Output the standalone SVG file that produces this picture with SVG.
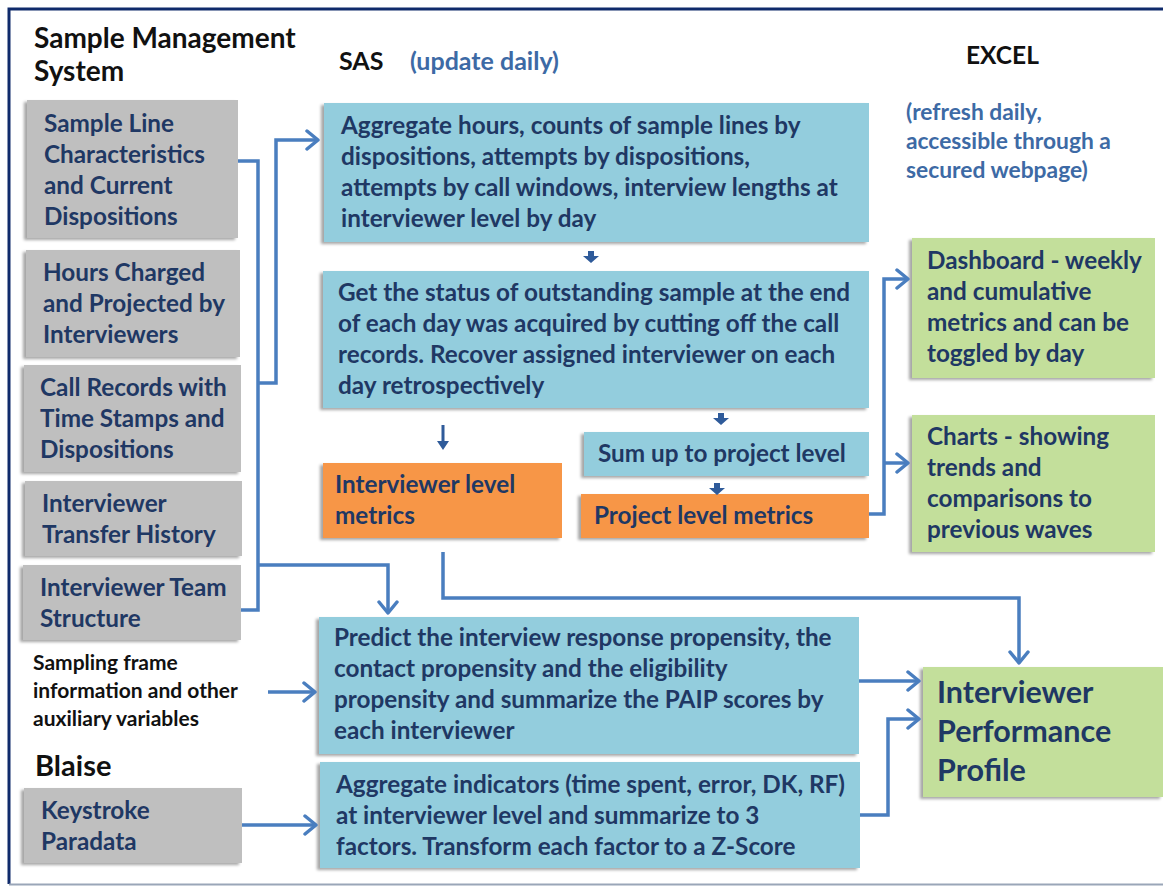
<svg xmlns="http://www.w3.org/2000/svg" width="1163" height="886" viewBox="0 0 1163 886">
  <defs>
    <filter id="shade" x="-5%" y="-10%" width="110%" height="120%">
      <feDropShadow dx="-3" dy="2" stdDeviation="1.5" flood-color="#000" flood-opacity="0.35"/>
    </filter>
    <marker id="open" markerUnits="userSpaceOnUse" markerWidth="18" markerHeight="22" refX="13" refY="11" orient="auto">
      <path d="M2,2 L13,11 L2,20" fill="none" stroke="#4a7ebf" stroke-width="3.5" stroke-linejoin="round" stroke-linecap="round"/>
    </marker>
  </defs>
  <style>
    .hd { font-family: Lato, "Liberation Sans", sans-serif; font-weight: 700; fill: #111; }
    .note { font-family: Lato, "Liberation Sans", sans-serif; font-weight: 700; fill: #3d6aa5; }
    .lbl { font-family: Lato, "Liberation Sans", sans-serif; font-weight: 700; fill: #1f3864; font-size: 24.3px; }
    .big { font-size: 30.5px; }
    .gray { fill: #bfbfbf; filter: url(#shade); }
    .blue { fill: #93cddd; filter: url(#shade); }
    .orange { fill: #f79646; filter: url(#shade); }
    .green { fill: #c3df9b; filter: url(#shade); }
    .wire { fill: none; stroke: #4a7ebf; stroke-width: 3.5; stroke-linejoin: miter; }
    .step { fill: #2f5b9a; }
  </style>

  <rect x="0" y="0" width="1163" height="886" fill="#fff"/>
  <!-- frame -->
  <path d="M9,884 V9 H1163" fill="none" stroke="#0f2a6b" stroke-width="3"/>
  <path d="M9,884.5 H1163" fill="none" stroke="#9aa6b8" stroke-width="2"/>

  <!-- column headings -->
  <g id="headings">
    <text class="hd" x="34" y="48" font-size="28">Sample Management</text>
    <text class="hd" x="34" y="81" font-size="28">System</text>
    <text class="hd" x="339" y="70" font-size="25">SAS</text>
    <text class="note" x="410" y="70" font-size="25">(update daily)</text>
    <text class="hd" x="966" y="64" font-size="24.5">EXCEL</text>
    <text class="note" x="906" y="120" font-size="22.8">(refresh daily,</text>
    <text class="note" x="906" y="149" font-size="22.8">accessible through a</text>
    <text class="note" x="906" y="178" font-size="22.8">secured webpage)</text>
    <text class="hd" x="35" y="776" font-size="29">Blaise</text>
  </g>

  <!-- sources -->
  <g id="sample-line">
    <rect class="gray" x="27" y="100" width="211" height="138"/>
    <text class="lbl"><tspan x="44" y="132">Sample Line</tspan><tspan x="44" y="163">Characteristics</tspan><tspan x="44" y="194">and Current</tspan><tspan x="44" y="225">Dispositions</tspan></text>
  </g>
  <g id="hours">
    <rect class="gray" x="26" y="250" width="214" height="107"/>
    <text class="lbl"><tspan x="43" y="281">Hours Charged</tspan><tspan x="43" y="312">and Projected by</tspan><tspan x="43" y="343">Interviewers</tspan></text>
  </g>
  <g id="call-records">
    <rect class="gray" x="24" y="365" width="217" height="107"/>
    <text class="lbl"><tspan x="40" y="396">Call Records with</tspan><tspan x="40" y="427">Time Stamps and</tspan><tspan x="40" y="458">Dispositions</tspan></text>
  </g>
  <g id="transfer">
    <rect class="gray" x="25" y="481" width="217" height="75"/>
    <text class="lbl"><tspan x="42" y="512">Interviewer</tspan><tspan x="42" y="543">Transfer History</tspan></text>
  </g>
  <g id="team">
    <rect class="gray" x="23" y="565" width="218" height="75"/>
    <text class="lbl"><tspan x="40" y="596">Interviewer Team</tspan><tspan x="40" y="627">Structure</tspan></text>
  </g>
  <g id="sampling-frame">
    <text class="hd" font-size="21"><tspan x="33" y="670">Sampling frame</tspan><tspan x="33" y="698">information and other</tspan><tspan x="33" y="726">auxiliary variables</tspan></text>
  </g>
  <g id="keystroke">
    <rect class="gray" x="24" y="788" width="218" height="75"/>
    <text class="lbl"><tspan x="41" y="819">Keystroke</tspan><tspan x="41" y="850">Paradata</tspan></text>
  </g>

  <!-- SAS processing -->
  <g id="aggregate-hours">
    <rect class="blue" x="324" y="103" width="545" height="139"/>
    <text class="lbl"><tspan x="341" y="134">Aggregate hours, counts of sample lines by</tspan><tspan x="341" y="165">dispositions, attempts by dispositions,</tspan><tspan x="341" y="196">attempts by call windows, interview lengths at</tspan><tspan x="341" y="227">interviewer level by day</tspan></text>
  </g>
  <g id="status">
    <rect class="blue" x="323" y="271" width="546" height="137"/>
    <text class="lbl"><tspan x="338" y="301">Get the status of outstanding sample at the end</tspan><tspan x="338" y="332">of each day was acquired by cutting off the call</tspan><tspan x="338" y="363">records. Recover assigned interviewer on each</tspan><tspan x="338" y="394">day retrospectively</tspan></text>
  </g>
  <g id="sum-up">
    <rect class="blue" x="584" y="432" width="285" height="44"/>
    <text class="lbl" x="598" y="462">Sum up to project level</text>
  </g>
  <g id="interviewer-metrics">
    <rect class="orange" x="323" y="463" width="239" height="75"/>
    <text class="lbl"><tspan x="335" y="493">Interviewer level</tspan><tspan x="335" y="524">metrics</tspan></text>
  </g>
  <g id="project-metrics">
    <rect class="orange" x="581" y="494" width="288" height="44"/>
    <text class="lbl" x="594" y="524">Project level metrics</text>
  </g>
  <g id="predict">
    <rect class="blue" x="319" y="617" width="540" height="137"/>
    <text class="lbl"><tspan x="334" y="646">Predict the interview response propensity, the</tspan><tspan x="334" y="677">contact propensity and the eligibility</tspan><tspan x="334" y="708">propensity and summarize the PAIP scores by</tspan><tspan x="334" y="739">each interviewer</tspan></text>
  </g>
  <g id="aggregate-indicators">
    <rect class="blue" x="320" y="762" width="540" height="106"/>
    <text class="lbl"><tspan x="336" y="793">Aggregate indicators (time spent, error, DK, RF)</tspan><tspan x="336" y="824">at interviewer level and summarize to 3</tspan><tspan x="336" y="855">factors. Transform each factor to a Z-Score</tspan></text>
  </g>

  <!-- EXCEL outputs -->
  <g id="dashboard">
    <rect class="green" x="912" y="238" width="243" height="140"/>
    <text class="lbl"><tspan x="927" y="269">Dashboard - weekly</tspan><tspan x="927" y="300">and cumulative</tspan><tspan x="927" y="331">metrics and can be</tspan><tspan x="927" y="362">toggled by day</tspan></text>
  </g>
  <g id="charts">
    <rect class="green" x="912" y="415" width="243" height="137"/>
    <text class="lbl"><tspan x="927" y="445">Charts - showing</tspan><tspan x="927" y="476">trends and</tspan><tspan x="927" y="507">comparisons to</tspan><tspan x="927" y="538">previous waves</tspan></text>
  </g>
  <g id="profile">
    <rect class="green" x="923" y="667" width="240" height="130"/>
    <text class="lbl big"><tspan x="937" y="703">Interviewer</tspan><tspan x="937" y="742">Performance</tspan><tspan x="937" y="781">Profile</tspan></text>
  </g>

  <!-- connectors -->
  <g id="connectors">
    <path class="wire" d="M238,161 H258 V610 H241"/>
    <path class="wire" d="M258,383 H276 V140 H318" marker-end="url(#open)"/>
    <path class="wire" d="M258,565 H388 V613" marker-end="url(#open)"/>
    <path class="wire" d="M268,692 H315" marker-end="url(#open)"/>
    <path class="wire" d="M242,825 H316" marker-end="url(#open)"/>
    <path class="wire" d="M443,552 V598 H1019 V663" marker-end="url(#open)"/>
    <path class="wire" d="M859,681 H919" marker-end="url(#open)"/>
    <path class="wire" d="M860,815 H888 V719 H919" marker-end="url(#open)"/>
    <path class="wire" d="M869,514 H884 V279 H908" marker-end="url(#open)"/>
    <path class="wire" d="M884,463 H908" marker-end="url(#open)"/>
    <!-- step arrows inside the SAS column -->
    <path class="step" d="M588,251 h6 v5 h5 l-8,7 l-8,-7 h5 z"/>
    <path class="step" d="M718,413 h6 v5 h5 l-8,7 l-8,-7 h5 z"/>
    <path class="step" d="M714,483 h6 v5 h5 l-8,7 l-8,-7 h5 z"/>
    <path class="step" d="M441.5,425 h3 v16 h4.5 l-6,9 l-6,-9 h4.5 z"/>
  </g>
</svg>
